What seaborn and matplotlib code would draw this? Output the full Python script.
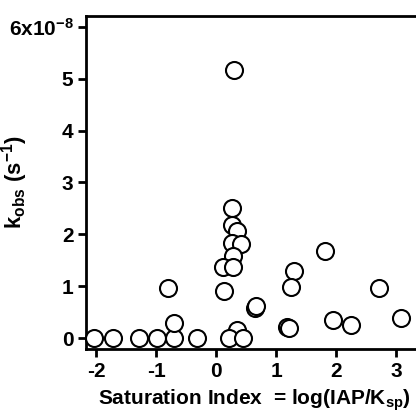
import pandas as pd
import matplotlib
matplotlib.use('Agg')
import matplotlib.pyplot as plt
import seaborn as sns

# saturation index and k_obs (x 1e-8 s^-1)
sat_index = [-2.03, -1.72, -1.28, -0.98, -0.70, -0.32, -0.80, -0.70,
             0.30, 0.27, 0.27, 0.35, 0.27, 0.42, 0.28, 0.12, 0.28, 0.13,
             0.64, 0.66, 0.35, 0.22, 0.45, 1.18, 1.21, 1.30, 1.25,
             1.82, 2.72, 1.95, 2.25, 3.08]
k_obs = [0.0, 0.0, 0.0, 0.0, 0.0, 0.0, 0.97, 0.29,
         5.17, 2.51, 2.18, 2.07, 1.83, 1.81, 1.58, 1.37, 1.37, 0.91,
         0.58, 0.61, 0.15, 0.0, 0.0, 0.21, 0.19, 1.29, 0.98,
         1.68, 0.97, 0.35, 0.25, 0.39]

ytick_vals = [0, 1, 2, 3, 4, 5, 6]
ytick_labels = ['0', '1', '2', '3', '4', '5', '6x10$^{-8}$']
xtick_vals = [-2, -1, 0, 1, 2, 3]

df = pd.DataFrame({'si': sat_index, 'k': k_obs})

sns.set_style('ticks')
plt.rcParams['font.family'] = ['Liberation Sans', 'DejaVu Sans']
plt.rcParams['font.weight'] = 'bold'
plt.rcParams['text.color'] = 'black'
plt.rcParams['axes.labelcolor'] = 'black'
plt.rcParams['xtick.color'] = 'black'
plt.rcParams['ytick.color'] = 'black'
plt.rcParams['axes.edgecolor'] = 'black'
plt.rcParams['axes.unicode_minus'] = False
plt.rcParams['mathtext.fontset'] = 'custom'
plt.rcParams['mathtext.rm'] = 'Liberation Sans:bold'
plt.rcParams['mathtext.it'] = 'Liberation Sans:bold'
plt.rcParams['mathtext.bf'] = 'Liberation Sans:bold'
plt.rcParams['mathtext.default'] = 'rm'

fig = plt.figure(figsize=(4.16, 4.15), dpi=100)
ax = fig.add_axes([86 / 416, 66 / 415, 340 / 416, 333 / 415])

sns.scatterplot(data=df, x='si', y='k', ax=ax, s=150, facecolor='white',
                edgecolor='black', linewidth=1.5, zorder=3, clip_on=False)

ax.set_xlim(-2.17, 3.5)
ax.set_ylim(-0.21, 6.21)
ax.set_xticks(xtick_vals)
ax.set_xticklabels([str(v) for v in xtick_vals])
ax.set_yticks(ytick_vals)
ax.set_yticklabels(ytick_labels)
ax.tick_params(direction='out', length=6, width=2, labelsize=15, pad=3)
for lab in ax.get_xticklabels() + ax.get_yticklabels():
    lab.set_fontweight('bold')

for side in ['left', 'bottom', 'top']:
    ax.spines[side].set_linewidth(2)
    ax.spines[side].set_visible(True)
ax.spines['right'].set_visible(False)

ax.set_ylabel('k$_{obs}$ (s$^{-1}$)', fontsize=16, fontweight='bold')
ax.set_xlabel('Saturation Index  = log(IAP/K$_{sp}$)', fontsize=15,
              fontweight='bold')
ax.xaxis.set_label_coords(0.495, -0.115)
ax.yaxis.set_label_coords(-0.165, 0.5)

fig.savefig('out.png', dpi=100)
